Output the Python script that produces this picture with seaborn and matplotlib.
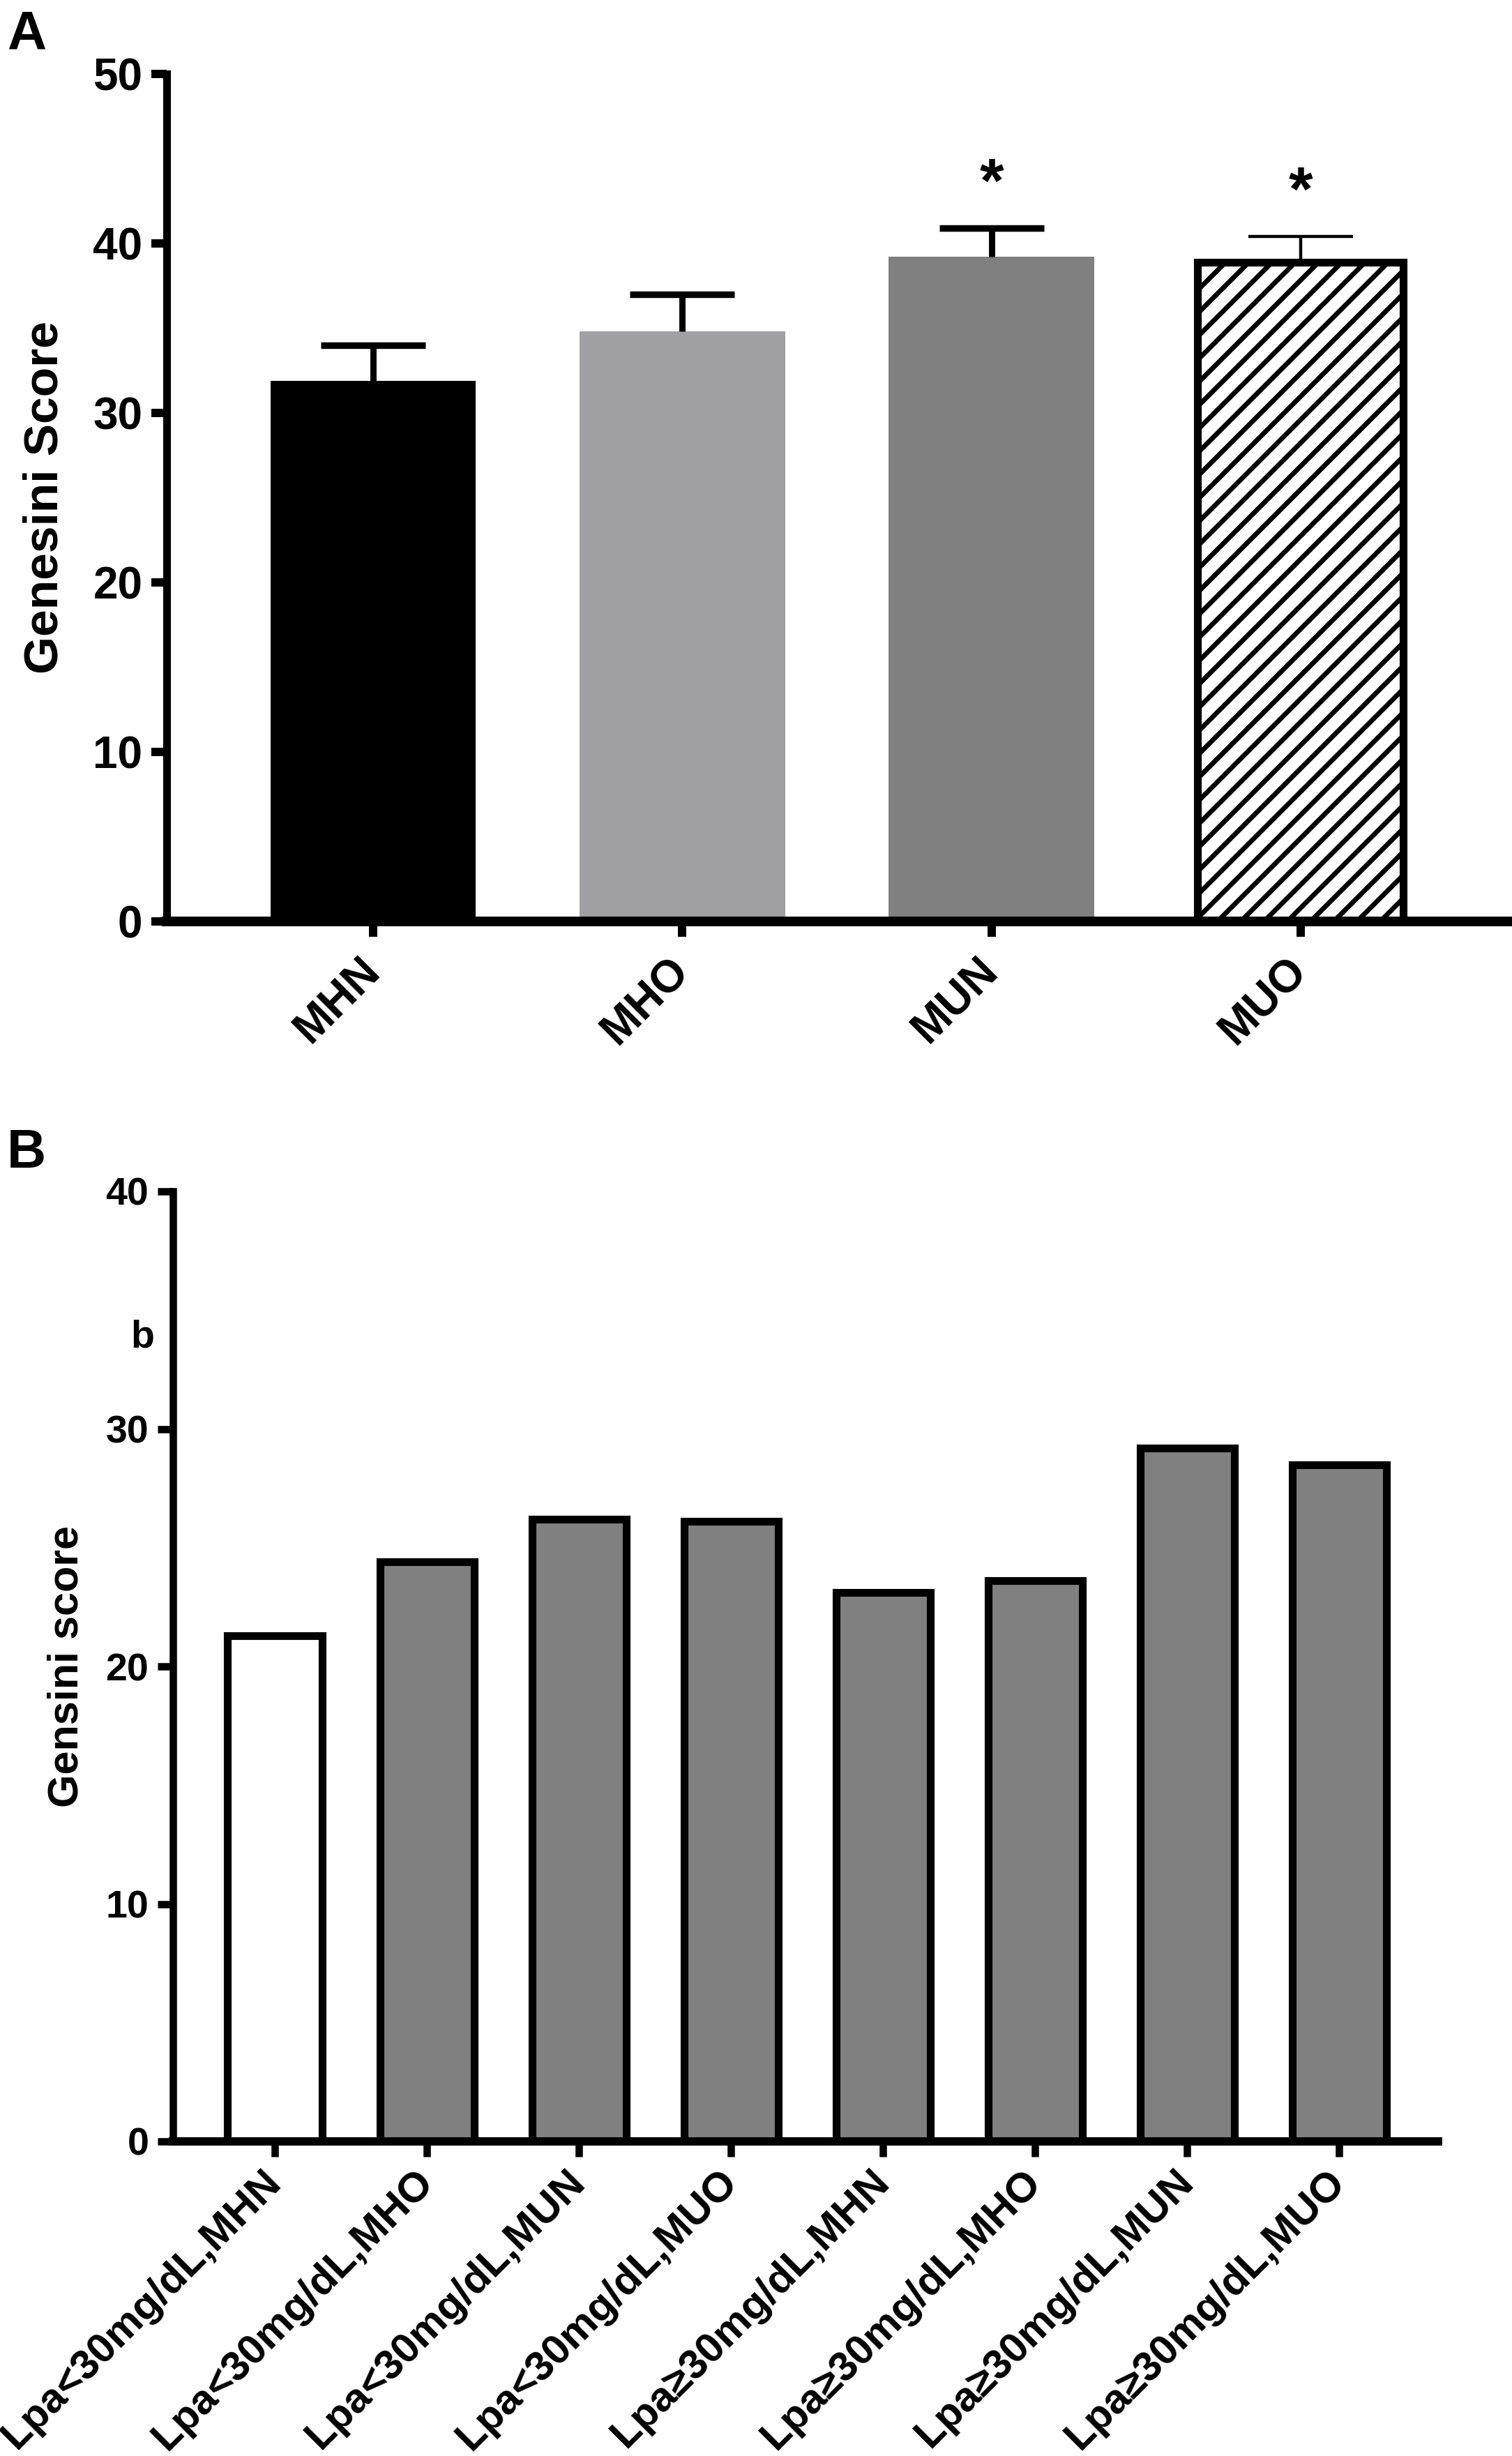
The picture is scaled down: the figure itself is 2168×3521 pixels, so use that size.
# Gensini score por grupo metabólico (painel A) e por Lp(a) x grupo (painel B)

import matplotlib
matplotlib.use("Agg")
import matplotlib.pyplot as plt
import seaborn as sns

# dados
grupos = ["MHN", "MHO", "MUN", "MUO"]
media_a = [31.9, 34.8, 39.2, 38.9]
sem_a = [2.1, 2.2, 1.7, 1.5]
signif_a = ["", "", "*", "*"]

grupos_b = ["Lpa<30mg/dL,MHN", "Lpa<30mg/dL,MHO", "Lpa<30mg/dL,MUN", "Lpa<30mg/dL,MUO",
            "Lpa≥30mg/dL,MHN", "Lpa≥30mg/dL,MHO", "Lpa≥30mg/dL,MUN", "Lpa≥30mg/dL,MUO"]
media_b = [21.3, 24.4, 26.2, 26.1, 23.1, 23.6, 29.2, 28.5]

cores_a = ["#000000", "#a0a0a4", "#808080", "#ffffff"]
cores_b = ["#ffffff"] + ["#808080"] * 7

sns.set_style("ticks")
plt.rcParams["font.family"] = ["Liberation Sans", "DejaVu Sans"]
plt.rcParams["font.weight"] = "bold"
plt.rcParams["hatch.linewidth"] = 2.5
plt.rcParams["hatch.color"] = "black"
for k in ["text.color", "axes.labelcolor", "xtick.color", "ytick.color", "axes.edgecolor"]:
    plt.rcParams[k] = "black"

W, H = 2168, 3521
fig = plt.figure(figsize=(W / 200, H / 200), dpi=200)

# ---------- painel A ----------
axA = fig.add_axes([239 / W, 1 - 1321 / H, (W - 239) / W, (1321 - 106) / H])
sns.barplot(x=grupos, y=media_a, hue=grupos, palette=dict(zip(grupos, cores_a)),
            legend=False, width=0.665, linewidth=0, saturation=1, ax=axA)
for i, p in enumerate(axA.patches[:4]):
    p.set_zorder(2)
    if grupos[i] == "MUO":
        p.set_hatch("//")
        p.set_edgecolor("black")
        p.set_linewidth(4)

for i in range(4):
    grosso = grupos[i] != "MUO"
    eb = axA.errorbar([i], [media_a[i]], yerr=[[0], [sem_a[i]]], fmt="none", ecolor="black",
                      elinewidth=3.2 if grosso else 1.6, capsize=27,
                      capthick=3.4 if grosso else 1.6, zorder=3)
    eb[1][0].set_visible(False)  # sem cap inferior
    if signif_a[i]:
        axA.text(i, media_a[i] + sem_a[i] + 0.8, signif_a[i], ha="center", va="bottom",
                 fontsize=32, fontweight="bold")

axA.set_ylim(0, 50)
axA.set_yticks(range(0, 51, 10))
axA.set_xlim(-0.668, 3.684)
axA.set_xlabel("")
axA.set_ylabel("Genesini Score", fontsize=25, fontweight="bold")
axA.yaxis.set_label_coords(-0.074, 0.5)
sns.despine(ax=axA)
axA.spines["left"].set_linewidth(4)
axA.spines["bottom"].set_linewidth(5)
axA.tick_params(axis="both", direction="out", length=8, width=4.3, labelsize=23, pad=4.5)
axA.tick_params(axis="x", pad=14)
plt.setp(axA.get_xticklabels(), rotation=45, ha="right", va="center",
         rotation_mode="anchor", fontweight="bold")
plt.setp(axA.get_yticklabels(), fontweight="bold")

# ---------- painel B ----------
axB = fig.add_axes([248 / W, 1 - 3070 / H, (2062 - 248) / W, (3070 - 1708) / H])
sns.barplot(x=grupos_b, y=media_b, hue=grupos_b, palette=dict(zip(grupos_b, cores_b)),
            legend=False, width=0.62, edgecolor="black", linewidth=4, saturation=1, ax=axB)
axB.set_ylim(0, 40)
axB.set_yticks(range(0, 41, 10))
axB.set_xlim(-0.67, 7.65)
axB.set_xlabel("")
axB.set_ylabel("Gensini score", fontsize=22, fontweight="bold")
axB.yaxis.set_label_coords(-0.068, 0.5)
sns.despine(ax=axB)
axB.spines["left"].set_linewidth(3.8)
axB.spines["bottom"].set_linewidth(4.3)
axB.tick_params(axis="both", direction="out", length=8, width=3.8, labelsize=20, pad=4.5)
axB.tick_params(axis="x", pad=10, labelsize=21.5)
plt.setp(axB.get_xticklabels(), rotation=45, ha="right", va="center",
         rotation_mode="anchor", fontweight="bold")
plt.setp(axB.get_yticklabels(), fontweight="bold")

# letras dos painéis e o "b" solto
fig.text(10 / W, 1 - 71 / H, "A", fontsize=28, fontweight="bold", va="baseline")
fig.text(10 / W, 1 - 1674 / H, "B", fontsize=28, fontweight="bold", va="baseline")
fig.text(221 / W, 1 - 1932 / H, "b", fontsize=20, fontweight="bold", ha="right", va="baseline")

fig.savefig("out.png", dpi=200)
